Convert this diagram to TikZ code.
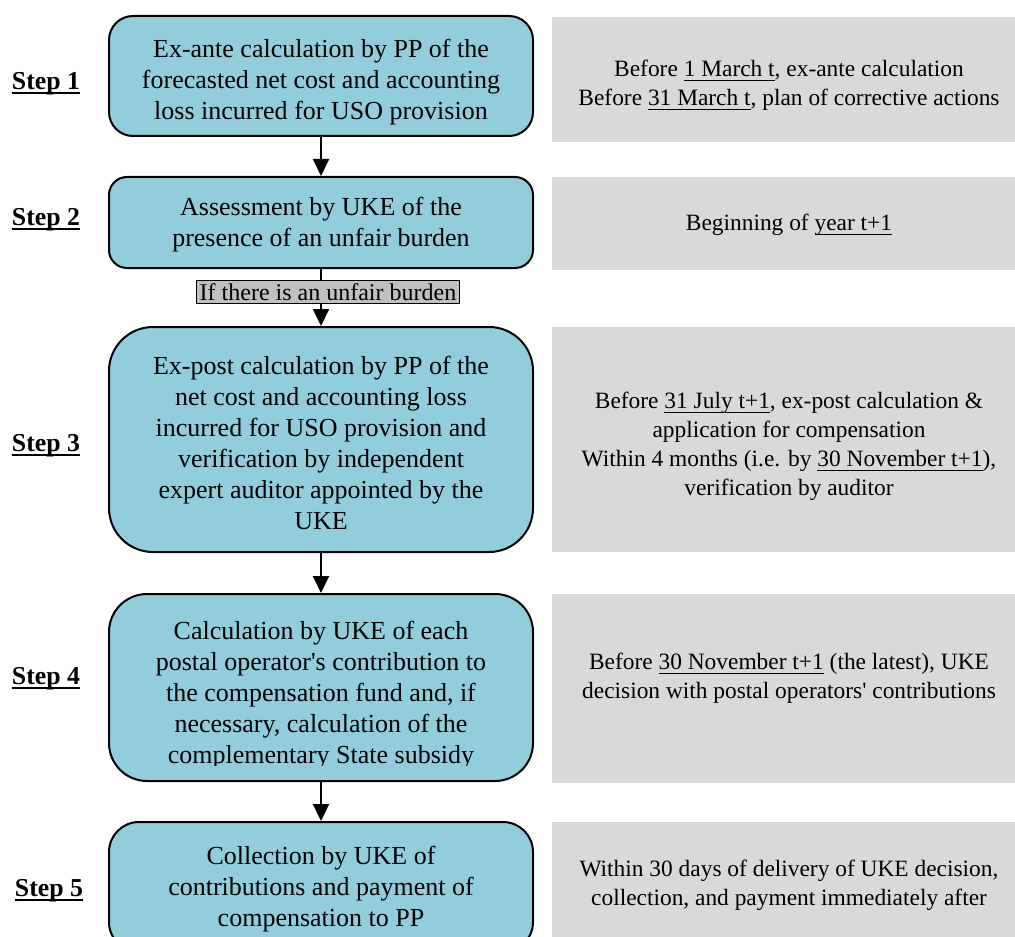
\documentclass[tikz,border=0pt]{standalone}
\usepackage{fontspec}
\setmainfont{Liberation Serif}
\usetikzlibrary{arrows.meta}
\definecolor{stepblue}{RGB}{146,205,220}
\definecolor{notegray}{RGB}{217,217,217}
\definecolor{condgray}{RGB}{192,192,192}
% underline at a fixed depth
\newcommand\ulin[2][0.5pt]{{\setbox0\hbox{#2}\rlap{\rule[-2.3pt]{\wd0}{#1}}\box0}}
\begin{document}
\begin{tikzpicture}[x=0.5pt,y=-0.5pt,line join=round]
	\tikzstyle{stepbox}=[rectangle,draw,line width=1pt,fill=stepblue,minimum width=212pt,inner sep=0pt]
	\tikzstyle{steptext}=[align=center,inner sep=0pt,font=\fontsize{13}{15.5}\selectfont]
	\tikzstyle{note}=[rectangle,fill=notegray,minimum width=237pt,inner sep=0pt]
	\tikzstyle{notetext}=[align=center,inner sep=0pt,font=\fontsize{11.7}{14.5}\selectfont]
	\tikzstyle{steplabel}=[font=\fontsize{12.9}{15}\selectfont\bfseries]
	\tikzstyle{arrow}=[line width=1pt,-{Triangle[width=8pt,length=8.5pt]}]
	\clip (0,0) rectangle (1015,936);
	% step boxes
	\foreach \n/\y/\h/\r in {b1/76/60pt/12pt, b2/222.5/45.5pt/9pt, b3/439.5/112.5pt/22pt, b4/687.5/93.5pt/19pt, b5/887/65pt/15pt} {\node[stepbox,minimum height=\h,rounded corners=\r] (\n) at (321,\y) {};}
	\node[steptext] (x1) at (321,82) {Ex-ante calculation by PP of the\\ forecasted net cost and accounting\\ loss incurred for USO provision};
	\node[steptext] (x2) at (321,225) {Assessment by UKE of the\\ presence of an unfair burden};
	\node[steptext] (x3) at (321,443) {Ex-post calculation by PP of the\\ net cost and accounting loss\\ incurred for USO provision and\\ verification by independent\\ expert auditor appointed by the\\ UKE};
	\begin{scope}
		\clip (109,594) rectangle (533,765);
		\node[steptext] (x4) at (321,695) {Calculation by UKE of each\\ postal operator\textquotesingle s contribution to\\ the compensation fund and, if\\ necessary, calculation of the\\ complementary State subsidy};
	\end{scope}
	\node[steptext] (x5) at (321,889) {Collection by UKE of\\ contributions and payment of\\ compensation to PP};
	\node[draw,fill=condgray,line width=0.6pt,inner sep=1.5pt,font=\fontsize{12}{14}\selectfont] (burden) at (328,292) {If there is an unfair burden};
	% arrows
	\draw[arrow] (b1) -- (b2);
	\draw[line width=1pt] (b2) -- (b2 |- burden.north);
	\draw[arrow] (b2 |- burden.south) -- (b3);
	\draw[arrow] (b3) -- (b4);
	\draw[arrow] (b4) -- (b5);
	% deadlines
	\foreach \n/\y/\h in {g1/79.5/62.5pt, g2/223.5/46.5pt, g3/439.5/112.5pt, g4/688.5/94.5pt, g5/900/78pt} {\node[note,minimum height=\h] (\n) at (789,\y) {};}
	\node[notetext] (t1) at (789,85) {Before \ulin{1 March t}, ex-ante calculation\\ Before \ulin{31 March t}, plan of corrective actions};
	\node[notetext] (t2) at (789,225) {Beginning of \ulin{year t+1}};
	\node[notetext] (t3) at (789,446) {Before \ulin{31 July t+1}, ex-post calculation \&\\ application for compensation\\ Within 4 months (i.e. by \ulin{30 November t+1}),\\ verification by auditor};
	\node[notetext] (t4) at (789,678) {Before \ulin{30 November t+1} (the latest), UKE\\ decision with postal operators\textquotesingle\ contributions};
	\node[notetext] (t5) at (789,885.5) {Within 30 days of delivery of UKE decision,\\ collection, and payment immediately after};
	% step labels
	\foreach \i/\x/\y in {1/46/84, 2/46/220, 3/46/446, 4/46/679, 5/49/891} {\node[steplabel] (s\i) at (\x,\y) {\ulin[1.2pt]{Step \i}};}
\end{tikzpicture}
\end{document}
